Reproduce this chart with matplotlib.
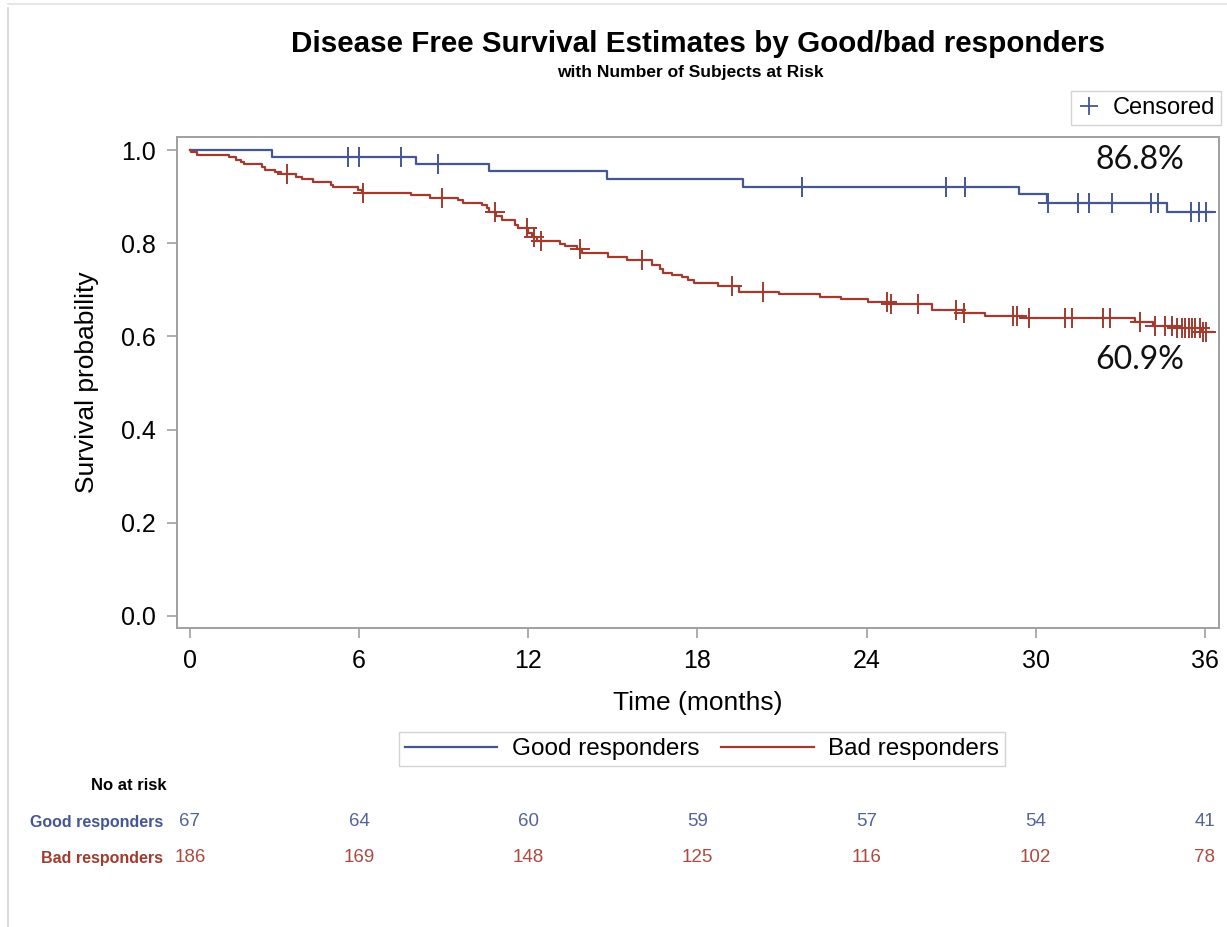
import numpy as np
import matplotlib
matplotlib.use("Agg")
import matplotlib.pyplot as plt
from matplotlib.lines import Line2D
from matplotlib.transforms import blended_transform_factory

plt.rcParams['font.family'] = ['Liberation Sans', 'DejaVu Sans']

# ---- data -------------------------------------------------------------
groups = ["Good responders", "Bad responders"]

good_event_times = [2.9, 8.0, 10.6, 14.8, 19.6, 29.4, 30.4, 34.65]
good_survival = [0.985, 0.970, 0.954, 0.938, 0.921, 0.906, 0.887, 0.868]
good_censor_times = [5.6, 6.0, 7.5, 8.8, 21.7, 26.8, 27.5, 30.42, 31.5, 31.9,
                     32.7, 34.1, 34.35, 35.5, 35.8, 36.05]

bad_event_times = [0.05, 0.25, 1.4, 1.65, 1.8, 1.92, 2.54, 2.66, 3.0, 3.23,
                   3.76, 3.96, 4.38, 5.0, 5.08, 5.97, 6.09, 7.83, 8.51, 9.52,
                   9.67, 10.35, 10.52, 10.62, 10.85, 11.06, 11.53, 11.65, 12.0, 12.12,
                   12.3, 13.13, 13.3, 13.72, 13.89, 14.84, 15.49, 16.38, 16.67, 16.77,
                   17.09, 17.44, 17.68, 17.88, 18.74, 19.49, 20.9, 22.35, 23.08, 24.06,
                   24.8, 26.31, 27.42, 28.2, 29.56, 33.52, 34.17, 34.95, 35.9]
bad_survival = [0.996, 0.989, 0.984, 0.979, 0.975, 0.969, 0.963, 0.957, 0.952, 0.948,
                0.943, 0.937, 0.932, 0.925, 0.920, 0.914, 0.908, 0.903, 0.898, 0.893,
                0.887, 0.882, 0.875, 0.868, 0.858, 0.849, 0.839, 0.832, 0.821, 0.813,
                0.805, 0.798, 0.793, 0.788, 0.778, 0.771, 0.764, 0.753, 0.744, 0.737,
                0.732, 0.727, 0.721, 0.715, 0.709, 0.696, 0.691, 0.685, 0.680, 0.673,
                0.669, 0.656, 0.650, 0.644, 0.639, 0.630, 0.622, 0.618, 0.609]
bad_censor_times = [3.43, 6.15, 8.94, 10.82, 11.94, 12.2, 12.44, 13.83, 16.02, 19.21,
                    20.34, 24.71, 24.87, 25.81, 27.16, 27.47, 29.21, 29.34, 29.77, 31.04,
                    31.28, 32.38, 32.65, 33.7, 34.23, 34.58, 34.83, 35.0, 35.18, 35.3,
                    35.42, 35.54, 35.66, 35.83, 35.95, 36.05]

follow_up_end = 36.3

risk_times = [0, 6, 12, 18, 24, 30, 36]
good_at_risk = [67, 64, 60, 59, 57, 54, 41]
bad_at_risk = [186, 169, 148, 125, 116, 102, 78]

y_ticks = [0.0, 0.2, 0.4, 0.6, 0.8, 1.0]

BLUE = "#445694"
RED = "#a23a2e"
BLUE_TXT = "#54639c"
RED_TXT = "#ad4a3f"
GRID = "#a0a0a0"

W, H = 1227, 927


def fx(px):
    return px / W


def fy(py):
    return 1 - py / H


def step_curve(times, surv, end):
    xs = [0.0] + list(times) + [end]
    ys = [1.0] + list(surv) + [surv[-1]]
    return xs, ys


def surv_at(times, surv, t):
    levels = np.concatenate([[1.0], surv])
    idx = np.searchsorted(times, t, side="right")
    return levels[idx]


fig = plt.figure(figsize=(W / 100, H / 100), dpi=100)
ax = fig.add_axes([fx(177), fy(628), fx(1219) - fx(177), fy(137) - fy(628)])

series = [
    (good_event_times, good_survival, good_censor_times, BLUE),
    (bad_event_times, bad_survival, bad_censor_times, RED),
]
for times, surv, cens, col in series:
    xs, ys = step_curve(times, surv, follow_up_end)
    ax.step(xs, ys, where="post", color=col, lw=1.6, zorder=3)
    cy = surv_at(np.array(times), np.array(surv), np.array(cens))
    ax.plot(cens, cy, ls="none", marker="+", ms=15, mew=1.4, color=col, zorder=4)

ax.set_xlim(-0.46, 36.5)
ax.set_ylim(-0.026, 1.028)
ax.set_xticks(risk_times)
ax.set_yticks(y_ticks)
ax.set_yticklabels([f"{v:.1f}" for v in y_ticks])
ax.tick_params(axis="both", labelsize=18, color=GRID, length=7, width=1.2,
               direction="out", pad=8)
for sp in ax.spines.values():
    sp.set_color(GRID)
    sp.set_linewidth(1.4)

ax.set_xlabel("Time (months)", fontsize=19, labelpad=13)
ax.set_ylabel("Survival probability", fontsize=19, labelpad=16)

# final estimates printed on the plot
pct_font = ["Lato", "DejaVu Sans"]
ax.text(33.7, 0.979, f"{good_survival[-1] * 100:.1f}%", ha="center", va="center",
        fontsize=23, family=pct_font, color="#111111")
ax.text(33.7, 0.549, f"{bad_survival[-1] * 100:.1f}%", ha="center", va="center",
        fontsize=23, family=pct_font, color="#111111")

# titles
fig.text(fx(698), fy(44), "Disease Free Survival Estimates by Good/bad responders",
         ha="center", va="center", fontsize=21.3, fontweight="bold")
fig.text(fx(690), fy(72), "with Number of Subjects at Risk",
         ha="center", va="center", fontsize=12.5, fontweight="bold")

# censored legend (top right)
cens_handle = Line2D([], [], ls="none", marker="+", ms=13, mew=1.3, color=BLUE)
fig.legend([cens_handle], ["Censored"], loc="upper right",
           bbox_to_anchor=(fx(1221), fy(91)), fontsize=17, frameon=True,
           fancybox=False, edgecolor="#c8c8c8", borderpad=0.25,
           handlelength=1.0, handletextpad=0.5, borderaxespad=0)

# group legend (bottom)
line_handles = [Line2D([], [], color=BLUE, lw=1.6), Line2D([], [], color=RED, lw=1.6)]
fig.legend(line_handles, groups, loc="center", bbox_to_anchor=(fx(702), fy(749)),
           ncol=2, fontsize=17.5, frameon=True, fancybox=False, edgecolor="#c8c8c8",
           borderpad=0.25, handlelength=3.8, handletextpad=0.6, columnspacing=0.9,
           borderaxespad=0)

# number-at-risk table
fig.text(fx(166), fy(785), "No at risk", ha="right", va="center",
         fontsize=12, fontweight="bold")
trans = blended_transform_factory(ax.transData, fig.transFigure)
rows = [(groups[0], good_at_risk, BLUE, BLUE_TXT, 822),
        (groups[1], bad_at_risk, RED, RED_TXT, 858)]
for name, counts, col, num_col, py in rows:
    fig.text(fx(163), fy(py), name, ha="right", va="center", fontsize=11.5,
             fontweight="bold", color=col)
    for t, n in zip(risk_times, counts):
        ax.text(t, fy(py), str(n), transform=trans, ha="center", va="center",
                fontsize=13.5, color=num_col)

# thin outer border
fig.add_artist(Line2D([fx(8), fx(8)], [fy(8), 0], transform=fig.transFigure,
                      color="#d4d4d4", lw=1.2))
fig.add_artist(Line2D([fx(8), 1], [fy(4), fy(4)], transform=fig.transFigure,
                      color="#e2e2e2", lw=1.2))

fig.savefig("out.png", dpi=100, facecolor="white")
